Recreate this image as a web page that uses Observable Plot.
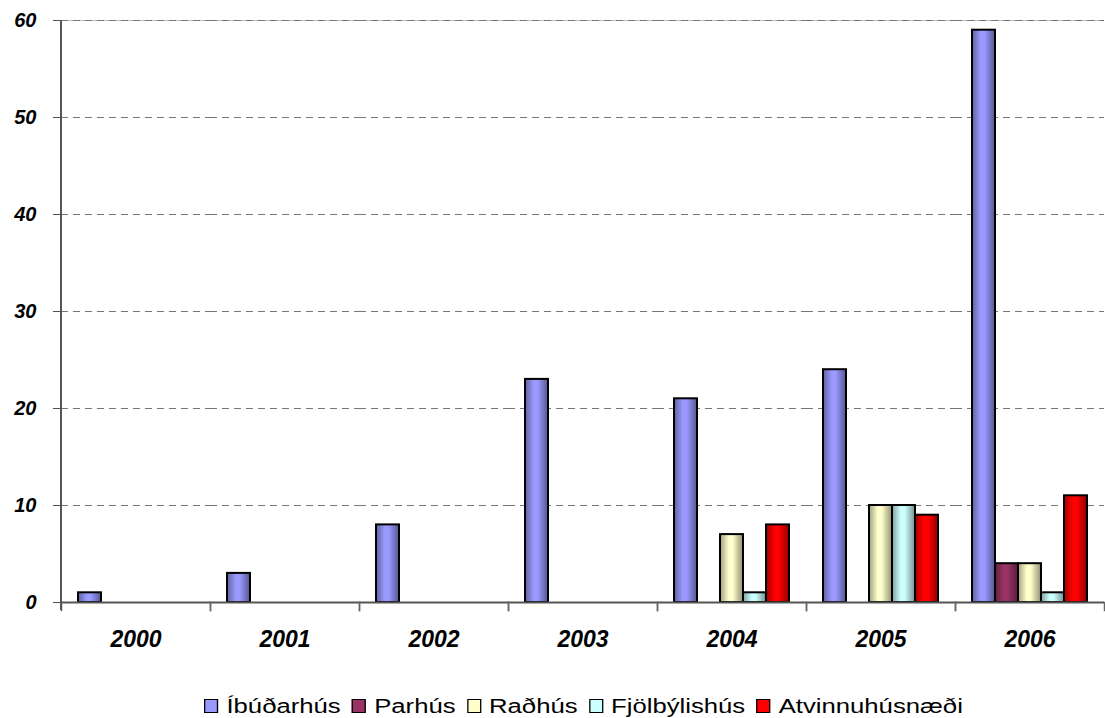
<!DOCTYPE html>
<html>
<head>
<meta charset="utf-8">
<script src="https://cdn.jsdelivr.net/npm/d3@7"></script>
<script src="https://cdn.jsdelivr.net/npm/@observablehq/plot@0.6"></script>
<style>
  body { margin: 0; background: #fff; font-family: "Liberation Sans", Arial, sans-serif; position: relative; width: 1105px; height: 718px; overflow: hidden; }
  #chart svg { display: block; }
  #legend { position: absolute; left: 204px; top: 695px; display: flex; align-items: center; font-size: 20px; line-height: 22px; color: #000; white-space: nowrap; transform: scaleX(1.284); transform-origin: 0 0; }
  #legend .item { display: flex; align-items: center; margin-right: 8.6px; }
  #legend .sw { width: 9.3px; height: 12px; border: 1px solid #000; border-left-width: 0.8px; border-right-width: 0.8px; margin-right: 6.2px; box-sizing: content-box; }
</style>
</head>
<body>
<div id="chart"></div>
<div id="legend"></div>
<script>
const years = ["2000", "2001", "2002", "2003", "2004", "2005", "2006"];
const series = ["Íbúðarhús", "Parhús", "Raðhús", "Fjölbýlishús", "Atvinnuhúsnæði"];
const ibudarhus = [1, 3, 8, 23, 21, 24, 59];
const parhus = [0, 0, 0, 0, 0, 0, 4];
const radhus = [0, 0, 0, 0, 7, 10, 4];
const fjolbylishus = [0, 0, 0, 0, 1, 10, 1];
const atvinnuhusnaedi = [0, 0, 0, 0, 8, 9, 11];
const colors = ["#9999FF", "#993366", "#FFFFCC", "#CCFFFF", "#FF0000"];
const yTicks = [0, 10, 20, 30, 40, 50, 60];

const valuesBySeries = [ibudarhus, parhus, radhus, fjolbylishus, atvinnuhusnaedi];
const rows = [];
series.forEach((s, si) => {
  years.forEach((y, yi) => {
    const v = valuesBySeries[si][yi];
    if (v > 0) rows.push({year: y, series: s, value: v});
  });
});

const font = "'Liberation Sans', Arial, sans-serif";

const plot = Plot.plot({
  width: 1105,
  height: 660,
  marginLeft: 61,
  marginRight: 1,
  marginTop: 20,
  marginBottom: 58,
  style: {fontFamily: font, background: "#fff"},
  fx: {domain: years, padding: 0, label: null},
  x: {domain: series, paddingInner: 0, paddingOuter: 0.68, axis: null},
  y: {domain: [0, 60], label: null},
  color: {domain: series, range: series.map((s, i) => `url(#grad${i})`)},
  marks: [
    Plot.ruleY([60], {stroke: "#bbb", strokeWidth: 1}),
    Plot.ruleY(yTicks.filter(d => d > 0), {stroke: "#777", strokeDasharray: "7,5", strokeWidth: 1}),
    Plot.barY(rows, {fx: "year", x: "series", y: "value", fill: "series", stroke: "#000", strokeWidth: 2}),
    Plot.ruleY([0], {stroke: "#555", strokeWidth: 2}),
    Plot.frame({anchor: "left", insetTop: 582, insetBottom: -8, stroke: "#666", strokeWidth: 1.5}),
    Plot.frame({anchor: "right", insetTop: 582, insetBottom: -8, stroke: "#666", strokeWidth: 1.5}),
    Plot.axisY({ticks: yTicks, tickSize: 8, tickPadding: 17, fontSize: 20, fontWeight: "bold", fontStyle: "italic", stroke: "#555", fill: "#000", label: null}),
    Plot.axisFx({anchor: "bottom", tickSize: 0, tickPadding: 28, fontSize: 23, fontWeight: "bold", fontStyle: "italic", fill: "#000", label: null})
  ]
});

// gradient definitions for bar shading
const svg = d3.select(plot);
const defs = svg.insert("defs", ":first-child");
colors.forEach((c, i) => {
  const g = defs.append("linearGradient").attr("id", `grad${i}`).attr("x1", "0").attr("x2", "1").attr("y1", "0").attr("y2", "0");
  g.append("stop").attr("offset", "0%").attr("stop-color", d3.color(c).darker(1.3).formatHex());
  g.append("stop").attr("offset", "38%").attr("stop-color", c);
  g.append("stop").attr("offset", "55%").attr("stop-color", c);
  g.append("stop").attr("offset", "100%").attr("stop-color", d3.color(c).darker(1.6).formatHex());
});

// vertical y-axis line along the left edge of the plot area
const yScale = plot.scale("y");
svg.append("line")
  .attr("x1", 61).attr("x2", 61)
  .attr("y1", yScale.range[0] + 8).attr("y2", yScale.range[1])
  .attr("stroke", "#555").attr("stroke-width", 2);

document.getElementById("chart").appendChild(plot);

const legend = document.getElementById("legend");
series.forEach((s, i) => {
  const item = document.createElement("div");
  item.className = "item";
  const sw = document.createElement("div");
  sw.className = "sw";
  sw.style.background = colors[i];
  const label = document.createElement("span");
  label.textContent = s;
  item.appendChild(sw);
  item.appendChild(label);
  legend.appendChild(item);
});
</script>
</body>
</html>
